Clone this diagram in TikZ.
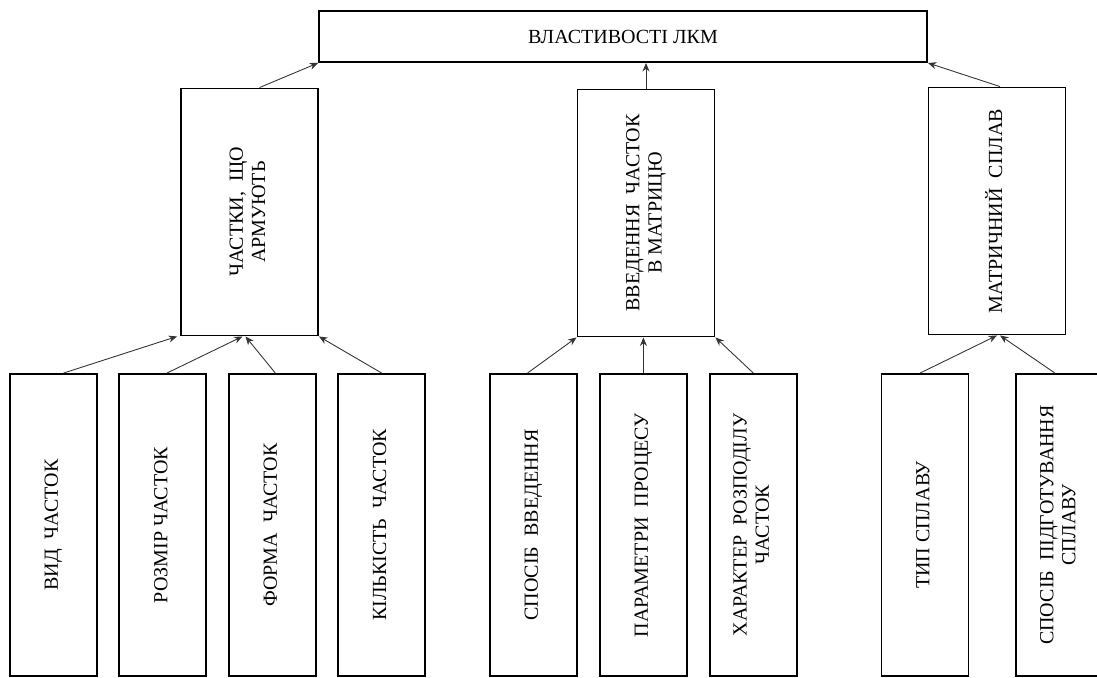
\documentclass[tikz,border=0pt]{standalone}
\usepackage{fontspec}
\setmainfont{Liberation Serif}
\usepackage{graphicx}
\usepackage{xcolor}
\usepackage{tikz}
\usetikzlibrary{positioning,arrows.meta,calc}

\newcommand{\uptext}[1]{\rotatebox{90}{\begin{tabular}{@{}c@{}}#1\end{tabular}}}

\begin{document}
\begin{tikzpicture}[
    x=0.02cm, y=-0.02cm,
    font=\fontsize{11.4}{12.6}\selectfont,
    box/.style={
        rectangle,
        draw,
        line width=1.1pt,
        align=center,
        inner sep=0pt
    },
    topbox/.style={
        box,
        minimum width=12.16cm,
        minimum height=1.02cm
    },
    midbox/.style={
        box,
        minimum width=2.74cm,
        minimum height=4.94cm
    },
    lowbox/.style={
        box,
        minimum width=1.74cm,
        minimum height=6.04cm
    },
    arrow/.style={
        -{Stealth[length=1.7mm, width=1.4mm]},
        line width=0.5pt,
        black!80
    }
]
\useasboundingbox (0,0) rectangle (1097,677);

\node[topbox] (lkm) at (623,36.5)
{ВЛАСТИВОСТІ ЛКМ};

\node[midbox] (armour) at (249.5,212)
{\uptext{ЧАСТКИ,~~ЩО\\АРМУЮТЬ}};

\node[midbox] (vved) at (646,213)
{\uptext{ВВЕДЕННЯ~~ЧАСТОК\\В МАТРИЦЮ}};

\node[midbox] (matrix) at (997,211)
{\uptext{МАТРИЧНИЙ~~СПЛАВ}};

% particles
\node[lowbox] (vid) at (53.5,525)
{\uptext{ВИД~~ЧАСТОК}};

\node[lowbox, right=0.41cm of vid] (size)
{\uptext{РОЗМІР ЧАСТОК}};

\node[lowbox, right=0.41cm of size] (shape)
{\uptext{ФОРМА~~ЧАСТОК}};

\node[lowbox, right=0.41cm of shape] (amount)
{\uptext{КІЛЬКІСТЬ~~ЧАСТОК}};

% introduction
\node[lowbox] (method) at (533.5,525)
{\uptext{СПОСІБ~~ВВЕДЕННЯ}};

\node[lowbox, right=0.42cm of method] (params)
{\uptext{ПАРАМЕТРИ~~ПРОЦЕСУ}};

\node[lowbox, right=0.42cm of params] (distrib)
{\uptext{ХАРАКТЕР~~РОЗПОДІЛУ\\ЧАСТОК}};

% alloy
\node[lowbox] (alloytype) at (925,525)
{\uptext{ТИП СПЛАВУ}};

\node[lowbox, right=0.92cm of alloytype] (prep)
{\uptext{СПОСІБ~~ПІДГОТУВАННЯ\\СПЛАВУ}};

\draw[arrow] ($(armour.north)+(10,0)$) -- (lkm.south west);
\draw[arrow] (vved.north) -- (vved.north |- lkm.south);
\draw[arrow] ($(matrix.north)+(3,0)$) -- (lkm.south east);

\draw[arrow] ($(vid.north)+(10,0)$) -- ($(armour.south west)+(-3,0)$);
\draw[arrow] ($(size.north)+(4,0)$) -- ($(armour.south)+(-7,0)$);
\draw[arrow] ($(shape.north)+(3,0)$) -- ($(armour.south)+(-4,0)$);
\draw[arrow] (amount.north) -- (armour.south east);

\draw[arrow] ($(method.north)+(-6,0)$) -- (vved.south west);
\draw[arrow] (params.north) -- (params.north |- vved.south);
\draw[arrow] (distrib.north) -- (vved.south east);

\draw[arrow] ($(alloytype.north)+(-5,0)$) -- (matrix.south);
\draw[arrow] ($(prep.north)+(-5,0)$) -- ($(matrix.south)+(3,0)$);

\end{tikzpicture}
\end{document}
